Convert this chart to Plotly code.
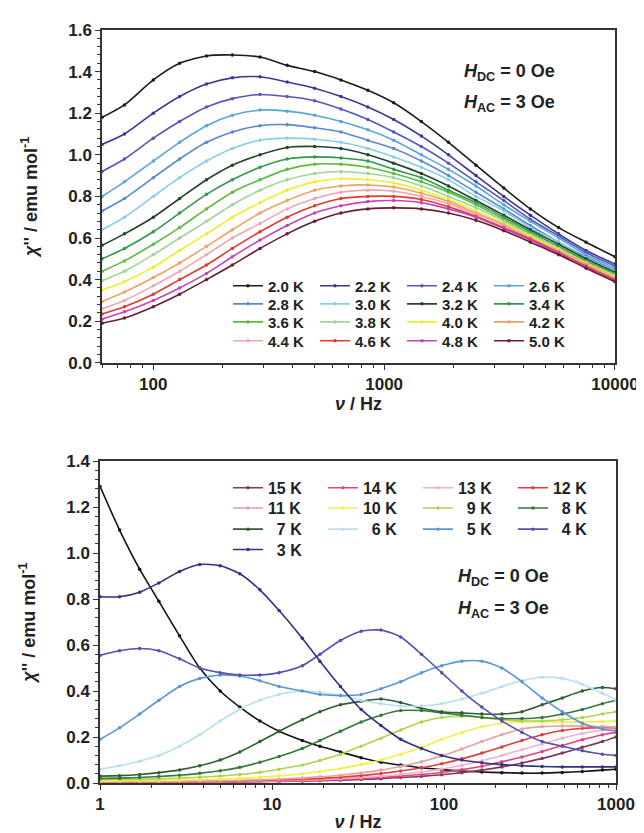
import plotly.graph_objects as go

# ---------------- data: top panel (chi'' vs frequency, 2.0-5.0 K) ----------------
freq_top = [60, 75, 100, 130, 170, 220, 290, 380, 500, 650, 850, 1100, 1450, 1900,
            2500, 3300, 4300, 5700, 7500, 10000]

chi_2p0K = [1.18, 1.24, 1.36, 1.44, 1.475, 1.48, 1.47, 1.43, 1.40, 1.36, 1.31, 1.25, 1.16, 1.06, 0.95, 0.84, 0.74, 0.65, 0.58, 0.51]
chi_2p2K = [1.05, 1.10, 1.20, 1.28, 1.34, 1.37, 1.375, 1.35, 1.32, 1.28, 1.23, 1.17, 1.09, 1.00, 0.90, 0.80, 0.71, 0.62, 0.54, 0.475]
chi_2p4K = [0.92, 0.98, 1.08, 1.16, 1.23, 1.27, 1.29, 1.28, 1.26, 1.22, 1.17, 1.11, 1.04, 0.96, 0.87, 0.78, 0.69, 0.61, 0.53, 0.465]
chi_2p6K = [0.80, 0.87, 0.97, 1.06, 1.14, 1.19, 1.215, 1.21, 1.19, 1.16, 1.12, 1.07, 1.00, 0.93, 0.85, 0.76, 0.68, 0.60, 0.52, 0.455]
chi_2p8K = [0.73, 0.79, 0.89, 0.98, 1.06, 1.11, 1.14, 1.145, 1.13, 1.11, 1.07, 1.03, 0.97, 0.90, 0.82, 0.74, 0.66, 0.58, 0.51, 0.445]
chi_3p0K = [0.64, 0.70, 0.80, 0.89, 0.97, 1.03, 1.07, 1.08, 1.075, 1.06, 1.03, 0.99, 0.94, 0.88, 0.80, 0.73, 0.65, 0.58, 0.505, 0.44]
chi_3p2K = [0.565, 0.62, 0.70, 0.79, 0.88, 0.95, 1.00, 1.035, 1.04, 1.03, 1.00, 0.96, 0.91, 0.85, 0.78, 0.71, 0.64, 0.57, 0.50, 0.435]
chi_3p4K = [0.50, 0.55, 0.63, 0.72, 0.81, 0.88, 0.94, 0.98, 0.99, 0.985, 0.97, 0.93, 0.89, 0.83, 0.77, 0.70, 0.63, 0.56, 0.49, 0.43]
chi_3p6K = [0.44, 0.49, 0.57, 0.65, 0.74, 0.82, 0.88, 0.93, 0.955, 0.955, 0.94, 0.91, 0.87, 0.82, 0.76, 0.69, 0.62, 0.55, 0.485, 0.425]
chi_3p8K = [0.395, 0.44, 0.52, 0.60, 0.68, 0.76, 0.83, 0.88, 0.91, 0.92, 0.91, 0.89, 0.85, 0.80, 0.745, 0.68, 0.615, 0.55, 0.48, 0.42]
chi_4p0K = [0.35, 0.39, 0.46, 0.54, 0.62, 0.70, 0.77, 0.83, 0.87, 0.885, 0.88, 0.865, 0.83, 0.785, 0.73, 0.67, 0.61, 0.545, 0.48, 0.415]
chi_4p2K = [0.295, 0.34, 0.41, 0.48, 0.56, 0.64, 0.72, 0.78, 0.83, 0.85, 0.855, 0.845, 0.815, 0.775, 0.72, 0.665, 0.60, 0.54, 0.475, 0.41]
chi_4p4K = [0.26, 0.30, 0.37, 0.44, 0.52, 0.60, 0.67, 0.74, 0.79, 0.82, 0.83, 0.825, 0.80, 0.765, 0.715, 0.66, 0.60, 0.535, 0.47, 0.405]
chi_4p6K = [0.235, 0.27, 0.33, 0.40, 0.47, 0.55, 0.63, 0.70, 0.755, 0.79, 0.80, 0.80, 0.785, 0.75, 0.705, 0.65, 0.595, 0.53, 0.465, 0.40]
chi_4p8K = [0.21, 0.245, 0.30, 0.36, 0.43, 0.51, 0.59, 0.66, 0.72, 0.755, 0.775, 0.78, 0.77, 0.74, 0.70, 0.645, 0.59, 0.525, 0.46, 0.395]
chi_5p0K = [0.19, 0.215, 0.27, 0.33, 0.40, 0.47, 0.55, 0.62, 0.68, 0.72, 0.74, 0.745, 0.74, 0.72, 0.685, 0.635, 0.58, 0.52, 0.455, 0.39]

top_names = ["2.0 K", "2.2 K", "2.4 K", "2.6 K", "2.8 K", "3.0 K", "3.2 K", "3.4 K",
             "3.6 K", "3.8 K", "4.0 K", "4.2 K", "4.4 K", "4.6 K", "4.8 K", "5.0 K"]
top_series = [chi_2p0K, chi_2p2K, chi_2p4K, chi_2p6K, chi_2p8K, chi_3p0K, chi_3p2K, chi_3p4K,
              chi_3p6K, chi_3p8K, chi_4p0K, chi_4p2K, chi_4p4K, chi_4p6K, chi_4p8K, chi_5p0K]
top_colors = ["#1c1c1c", "#3c3896", "#5656bc", "#58a6d8", "#5a88d2", "#86d0e4", "#24452a", "#34984a",
              "#5cbc3c", "#a2d498", "#eeee2e", "#f0a062", "#f0a6b2", "#e03c2e", "#c244c0", "#6a1e30"]

# ---------------- data: bottom panel (chi'' vs frequency, 2-15 K) ----------------
freq_bot = [1, 1.3, 1.7, 2.2, 2.9, 3.8, 5, 6.5, 8.5, 11, 15, 19, 25, 33, 43, 56, 74, 97,
            127, 166, 217, 284, 372, 487, 637, 834, 1000]

chi_2K = [1.29, 1.10, 0.93, 0.79, 0.64, 0.50, 0.40, 0.33, 0.27, 0.225, 0.185, 0.16, 0.135, 0.11, 0.09, 0.078, 0.066, 0.058, 0.052, 0.048, 0.045, 0.043, 0.043, 0.046, 0.05, 0.056, 0.06]
chi_3K = [0.81, 0.81, 0.83, 0.87, 0.92, 0.95, 0.945, 0.91, 0.84, 0.75, 0.63, 0.53, 0.42, 0.32, 0.25, 0.19, 0.15, 0.12, 0.10, 0.088, 0.08, 0.075, 0.072, 0.07, 0.07, 0.07, 0.07]
chi_4K = [0.555, 0.575, 0.585, 0.575, 0.54, 0.50, 0.48, 0.47, 0.47, 0.48, 0.51, 0.56, 0.62, 0.66, 0.665, 0.635, 0.56, 0.48, 0.40, 0.33, 0.27, 0.22, 0.18, 0.16, 0.14, 0.125, 0.12]
chi_5K = [0.19, 0.24, 0.30, 0.36, 0.42, 0.455, 0.47, 0.465, 0.445, 0.42, 0.40, 0.385, 0.38, 0.385, 0.41, 0.44, 0.48, 0.51, 0.53, 0.53, 0.50, 0.44, 0.37, 0.31, 0.26, 0.235, 0.225]
chi_6K = [0.06, 0.075, 0.095, 0.12, 0.16, 0.21, 0.27, 0.32, 0.36, 0.385, 0.40, 0.395, 0.38, 0.36, 0.345, 0.335, 0.335, 0.345, 0.365, 0.39, 0.42, 0.445, 0.46, 0.455, 0.43, 0.39, 0.36]
chi_7K = [0.03, 0.032, 0.037, 0.045, 0.057, 0.075, 0.10, 0.135, 0.18, 0.225, 0.275, 0.31, 0.34, 0.355, 0.365, 0.35, 0.325, 0.31, 0.305, 0.30, 0.30, 0.31, 0.34, 0.37, 0.40, 0.415, 0.41]
chi_8K = [0.02, 0.021, 0.024, 0.028, 0.034, 0.042, 0.053, 0.068, 0.09, 0.115, 0.15, 0.185, 0.225, 0.265, 0.295, 0.315, 0.315, 0.305, 0.295, 0.285, 0.28, 0.28, 0.285, 0.30, 0.32, 0.345, 0.36]
chi_9K = [0.014, 0.015, 0.016, 0.018, 0.021, 0.025, 0.03, 0.037, 0.047, 0.06, 0.078, 0.098, 0.125, 0.16, 0.195, 0.23, 0.265, 0.285, 0.29, 0.285, 0.275, 0.27, 0.27, 0.275, 0.285, 0.30, 0.31]
chi_10K = [0.008, 0.009, 0.01, 0.011, 0.012, 0.014, 0.017, 0.02, 0.025, 0.031, 0.04, 0.05, 0.063, 0.08, 0.10, 0.125, 0.155, 0.19, 0.22, 0.245, 0.26, 0.265, 0.265, 0.265, 0.265, 0.267, 0.27]
chi_11K = [0.006, 0.006, 0.007, 0.007, 0.008, 0.009, 0.01, 0.012, 0.014, 0.017, 0.022, 0.027, 0.034, 0.044, 0.056, 0.072, 0.092, 0.118, 0.148, 0.18, 0.21, 0.235, 0.245, 0.248, 0.248, 0.245, 0.243]
chi_12K = [0.005, 0.005, 0.005, 0.006, 0.006, 0.007, 0.008, 0.009, 0.011, 0.013, 0.016, 0.02, 0.025, 0.032, 0.041, 0.052, 0.066, 0.084, 0.105, 0.13, 0.157, 0.185, 0.21, 0.228, 0.238, 0.241, 0.24]
chi_13K = [0.004, 0.004, 0.004, 0.005, 0.005, 0.006, 0.006, 0.007, 0.008, 0.01, 0.012, 0.015, 0.019, 0.024, 0.03, 0.038, 0.048, 0.061, 0.077, 0.097, 0.12, 0.145, 0.17, 0.195, 0.215, 0.23, 0.235]
chi_14K = [0.003, 0.003, 0.004, 0.004, 0.004, 0.005, 0.005, 0.006, 0.007, 0.008, 0.01, 0.012, 0.015, 0.019, 0.024, 0.03, 0.037, 0.046, 0.058, 0.073, 0.092, 0.113, 0.137, 0.163, 0.188, 0.21, 0.22]
chi_15K = [0.003, 0.003, 0.003, 0.003, 0.004, 0.004, 0.004, 0.005, 0.006, 0.007, 0.008, 0.01, 0.012, 0.015, 0.019, 0.024, 0.029, 0.036, 0.045, 0.056, 0.07, 0.087, 0.107, 0.13, 0.155, 0.18, 0.2]

bot_names = ["15 K", "14 K", "13 K", "12 K", "11 K", "10 K", "9 K", "8 K", "7 K", "6 K", "5 K", "4 K", "3 K"]
bot_series = [chi_15K, chi_14K, chi_13K, chi_12K, chi_11K, chi_10K, chi_9K, chi_8K, chi_7K, chi_6K, chi_5K, chi_4K, chi_3K]
bot_colors = ["#7e3a58", "#e0467e", "#f2b0d0", "#e23c3c", "#e8a0a0", "#f0f04a", "#b2d24a", "#327a36",
              "#2e5e32", "#b6e0f0", "#5a96d6", "#5450b4", "#33327e"]
extra_name = "2 K"
extra_color = "#141414"

top_ticks = [100, 1000, 10000]
bot_ticks = [1, 10, 100, 1000]

# ---------------- figure ----------------
FONT = "Liberation Sans, Arial, sans-serif"
fig = go.Figure()

top_leg_y = [0.660, 0.636, 0.612, 0.587]
bot_leg_y = [0.392, 0.365, 0.337, 0.310]

LINE = dict(width=1.6, shape="spline", smoothing=0.7)

for i, (nm, ys, c) in enumerate(zip(top_names, top_series, top_colors)):
    leg = "legend" if i // 4 == 0 else f"legend{i // 4 + 1}"
    fig.add_trace(go.Scatter(x=freq_top, y=ys, name=nm, mode="lines+markers",
                             line=dict(color=c, **LINE), marker=dict(color=c, size=3.5),
                             xaxis="x", yaxis="y", legend=leg))

fig.add_trace(go.Scatter(x=freq_bot, y=chi_2K, name=extra_name, mode="lines+markers",
                         line=dict(color=extra_color, **LINE), marker=dict(color=extra_color, size=3.5),
                         xaxis="x2", yaxis="y2", showlegend=False))

for i, (nm, ys, c) in enumerate(zip(bot_names, bot_series, bot_colors)):
    leg = f"legend{i // 4 + 5}"
    label = nm if len(nm) == 4 else "\u2007" + nm
    fig.add_trace(go.Scatter(x=freq_bot, y=ys, name=label, mode="lines+markers",
                             line=dict(color=c, **LINE), marker=dict(color=c, size=3.5),
                             xaxis="x2", yaxis="y2", legend=leg))

axis_common = dict(showline=True, linecolor="#333333", linewidth=1.5, mirror=True,
                   ticks="outside", ticklen=5, tickwidth=1.2, tickcolor="#333333",
                   showgrid=False, zeroline=False,
                   tickfont=dict(family=FONT, size=17, color="#222222", weight="bold"))

title_font = dict(family=FONT, size=18, color="#222222", weight="bold")
ytitle = "<i>\u03c7</i>'' / emu mol<sup>-1</sup>"
xtitle = "<i>\u03bd</i> / Hz"

layout = dict(
    width=644, height=833,
    margin=dict(l=92, r=28, t=22, b=46),
    paper_bgcolor="white", plot_bgcolor="white",
    xaxis=dict(type="log", range=[1.778, 4.0], domain=[0.004, 0.998], anchor="y",
               tickvals=top_ticks, ticktext=[str(v) for v in top_ticks],
               minor=dict(ticks="outside", ticklen=3, tickcolor="#333333", dtick="D1"),
               title=dict(text=xtitle, font=title_font, standoff=4), **axis_common),
    yaxis=dict(range=[0, 1.6], domain=[0.558, 1.0], anchor="x", dtick=0.2, tickformat=".1f",
               minor=dict(ticks="outside", ticklen=3, tickcolor="#333333", dtick=0.04),
               title=dict(text=ytitle, font=title_font, standoff=26), **axis_common),
    xaxis2=dict(type="log", range=[0, 3.0], domain=[0.0, 1.0], anchor="y2",
                tickvals=bot_ticks, ticktext=[str(v) for v in bot_ticks],
                minor=dict(ticks="outside", ticklen=3, tickcolor="#333333", dtick="D1"),
                title=dict(text=xtitle, font=title_font, standoff=2), **axis_common),
    yaxis2=dict(range=[0, 1.4], domain=[0.0, 0.4275], anchor="x2", dtick=0.2, tickformat=".1f",
                minor=dict(ticks="outside", ticklen=3, tickcolor="#333333", dtick=0.04),
                title=dict(text=ytitle, font=title_font, standoff=26), **axis_common),
)

for k in range(4):
    key = "legend" if k == 0 else f"legend{k + 1}"
    layout[key] = dict(orientation="h", x=0.248, y=top_leg_y[k], xanchor="left", yanchor="middle",
                       entrywidth=42, entrywidthmode="pixels", bgcolor="rgba(0,0,0,0)",
                       font=dict(family=FONT, size=15, color="#222222", weight="bold"),
                       itemclick=False, itemdoubleclick=False)
for k in range(4):
    key = f"legend{k + 5}"
    layout[key] = dict(orientation="h", x=0.248, y=bot_leg_y[k], xanchor="left", yanchor="middle",
                       entrywidth=50, entrywidthmode="pixels", bgcolor="rgba(0,0,0,0)",
                       font=dict(family=FONT, size=16, color="#222222", weight="bold"),
                       itemclick=False, itemdoubleclick=False)

ann_font = dict(family=FONT, size=18, color="#222222", weight="bold")
layout["annotations"] = [
    dict(text="<i>H</i><sub>DC</sub> = 0 Oe", x=0.702, y=0.944, xref="paper", yref="paper",
         xanchor="left", yanchor="middle", showarrow=False, font=ann_font),
    dict(text="<i>H</i><sub>AC</sub> = 3 Oe", x=0.702, y=0.902, xref="paper", yref="paper",
         xanchor="left", yanchor="middle", showarrow=False, font=ann_font),
    dict(text="<i>H</i><sub>DC</sub> = 0 Oe", x=0.69, y=0.273, xref="paper", yref="paper",
         xanchor="left", yanchor="middle", showarrow=False, font=ann_font),
    dict(text="<i>H</i><sub>AC</sub> = 3 Oe", x=0.69, y=0.231, xref="paper", yref="paper",
         xanchor="left", yanchor="middle", showarrow=False, font=ann_font),
]

fig.update_layout(**layout)
fig.write_html("out.html")
